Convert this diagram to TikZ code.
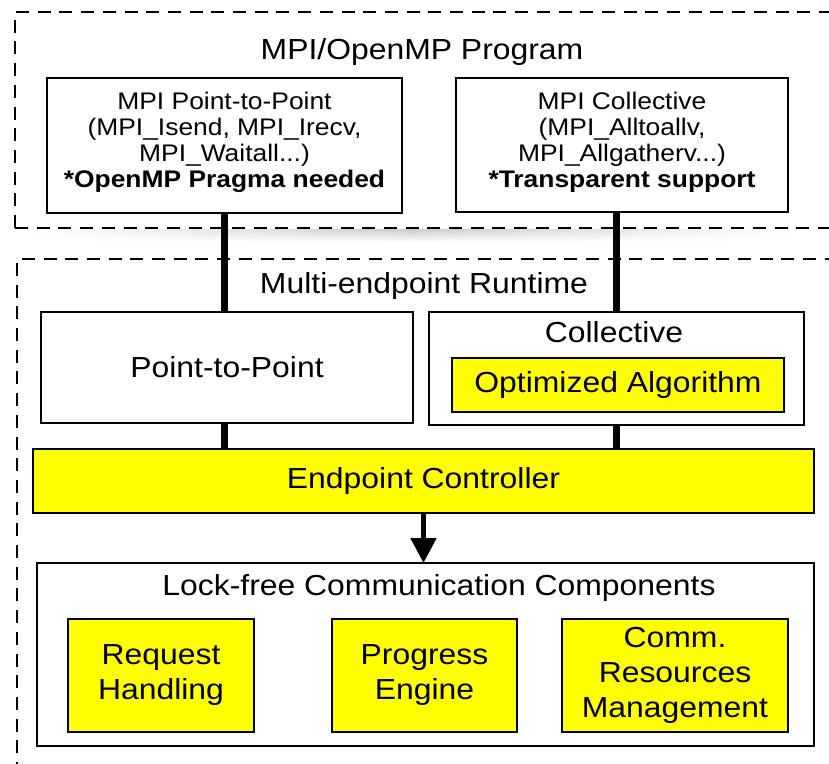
\documentclass[tikz,border=0pt]{standalone}
\usepackage{fontspec}
\setmainfont{Liberation Sans}[FakeStretch=1.1]
\usetikzlibrary{arrows.meta,fadings}
\definecolor{boxyellow}{RGB}{255,255,0}
\tikzfading[name=fadesides, left color=transparent!100, right color=transparent!100, middle color=transparent!0]
\begin{document}
\begin{tikzpicture}[x=1pt,y=-1pt,
  box/.style={draw=black, line width=2pt, inner sep=0pt, outer sep=0pt, align=center},
  ybox/.style={box, fill=boxyellow},
  bigtext/.style={font=\fontsize{29}{35}\selectfont, inner sep=0pt},
  smalltext/.style={font=\fontsize{24}{26}\selectfont, align=center, inner sep=0pt},
  group/.style={draw=black, line width=2.4pt, dash pattern=on 13pt off 8.7pt},
  link/.style={draw=black, line width=7pt},
  ]
\useasboundingbox (0,0) rectangle (829,763);
\clip (0,0) rectangle (829,763);

% soft shadow under the program group
\shade[top color=black!20, bottom color=white, path fading=fadesides] (25,229.5) rectangle (800,242);

% dashed groups
\draw[group] (15,228) -- (15,12) -- (845,12);
\draw[group] (15,228) -- (845,228);
\draw[group] (17,775) -- (17,259) -- (845,259);

% titles
\node[bigtext, anchor=base] (t1) at (422,59) {MPI/OpenMP Program};
\node[bigtext, anchor=base] (t2) at (424,293) {Multi-endpoint Runtime};

% program boxes
\node[box, minimum width=355pt, minimum height=135pt] (mpip2p) at (224.5,145.5) {};
\node[smalltext] (mpip2ptext) at (224.5,142) {MPI Point-to-Point\\(MPI\_Isend, MPI\_Irecv,\\MPI\_Waitall...)\\\textbf{*OpenMP Pragma needed}};
\node[box, minimum width=332pt, minimum height=134pt] (mpicoll) at (622,145) {};
\node[smalltext] (mpicolltext) at (622,142) {MPI Collective\\(MPI\_Alltoallv,\\MPI\_Allgatherv...)\\\textbf{*Transparent support}};

% runtime boxes
\node[box, bigtext, minimum width=372pt, minimum height=111pt] (p2p) at (227,367.5) {Point-to-Point};
\node[box, minimum width=375pt, minimum height=113pt] (coll) at (616.5,368.5) {};
\node[bigtext, anchor=base] (colltitle) at (614,342) {Collective};
\node[ybox, bigtext, minimum width=332pt, minimum height=54pt] (optalg) at (618,385) {Optimized Algorithm};
\node[ybox, bigtext, minimum width=781pt, minimum height=64pt] (ec) at (423.5,481) {Endpoint Controller};

% lock-free components
\node[box, minimum width=777pt, minimum height=183pt] (lf) at (425.5,654.5) {};
\node[bigtext, anchor=base] (lftitle) at (439,595) {Lock-free Communication Components};
\node[ybox, bigtext, minimum width=186pt, minimum height=113pt] (rh) at (161,675) {Request\\Handling};
\node[ybox, bigtext, minimum width=185pt, minimum height=113pt] (pe) at (424.5,675) {Progress\\Engine};
\node[ybox, bigtext, minimum width=226pt, minimum height=113pt] (crm) at (675,675) {Comm.\\Resources\\Management};

% connectors
\draw[link] (mpip2p.south) -- (mpip2p.south |- p2p.north);
\draw[link] (coll.north) -- (coll.north |- mpicoll.south);
\draw[link] (mpip2p.south |- p2p.south) -- (mpip2p.south |- ec.north);
\draw[link] (coll.south) -- (coll.south |- ec.north);
\draw[line width=5pt, -{Triangle[width=25pt,length=25pt]}] (ec.south) -- (ec.south |- lf.north);
\end{tikzpicture}
\end{document}
